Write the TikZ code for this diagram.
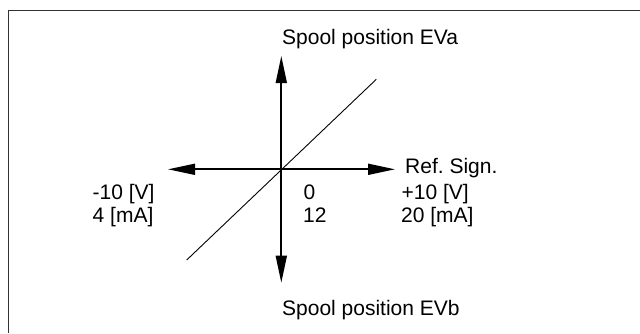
\documentclass[tikz,border=0pt]{standalone}
\usepackage{fontspec}
\setmainfont{Liberation Sans}
\usetikzlibrary{arrows.meta}
\begin{document}
\begin{tikzpicture}[x=1pt,y=-1pt,
  axis/.style={line width=1.7pt,-{Triangle[length=27pt,width=11pt]}},
  lbl/.style={anchor=base west,inner sep=0pt,font=\fontsize{21}{25}\selectfont},
  frame/.style={line width=1.6pt,draw=black!80}]
\useasboundingbox[fill=white] (0,0) rectangle (640,333);
\draw[frame] (8.5,333) -- (8.5,10.5) -- (640,10.5);
\coordinate (O) at (281.3,169.3);
\coordinate (T) at (281.3,56);
\coordinate (B) at (281.3,282.7);
\coordinate (L) at (168,169.3);
\coordinate (R) at (395,169.3);
\coordinate (D1) at (186.7,260);
\coordinate (D2) at (376.3,79.3);
\draw[axis] (O) -- (T);
\draw[axis] (O) -- (B);
\draw[axis] (O) -- (L);
\draw[axis] (O) -- (R);
\draw[line width=0.9pt] (D1) -- (D2);
\node[lbl] (eva) at (282,44) {Spool position EVa};
\node[lbl] (evb) at (282,315.5) {Spool position EVb};
\node[lbl] (ref) at (405,173) {Ref.\ Sign.};
\node[lbl] (m10) at (92.5,199.5) {-10 [V]};
\node[lbl] (m4) at (92.5,222.3) {4 [mA]};
\node[lbl] (z0) at (303.5,199.5) {0};
\node[lbl] (z12) at (303,222.3) {12};
\node[lbl] (p10) at (401.5,199.5) {+10 [V]};
\node[lbl] (p20) at (401,222.3) {20 [mA]};
\end{tikzpicture}
\end{document}
